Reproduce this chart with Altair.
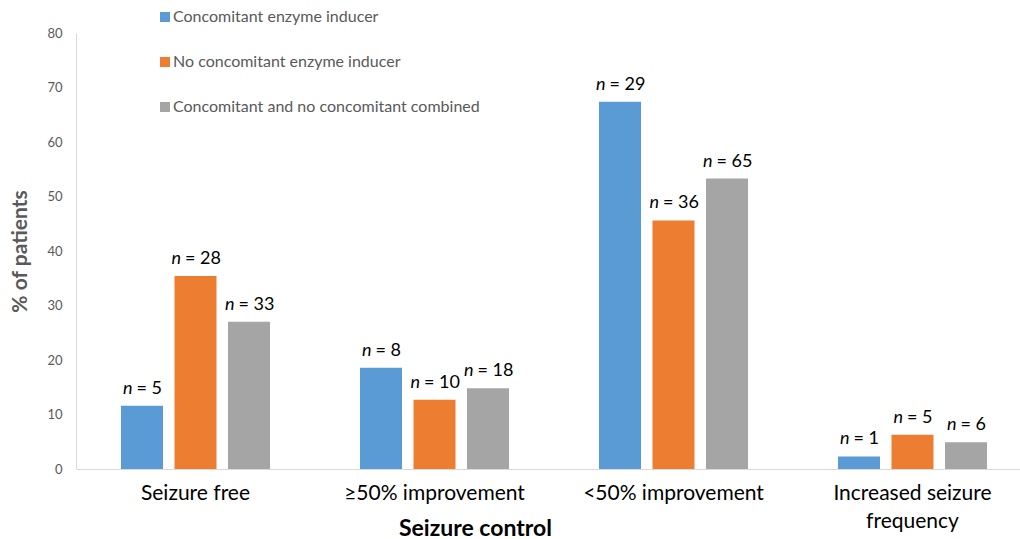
import altair as alt
import pandas as pd

categories = ["Seizure free", "≥50% improvement", "<50% improvement", "Increased seizure frequency"]
series = ["Concomitant enzyme inducer", "No concomitant enzyme inducer", "Concomitant and no concomitant combined"]
colors = ["#5B9BD5", "#ED7D31", "#A5A5A5"]

pct_inducer = [11.6, 18.6, 67.4, 2.3]
pct_no_inducer = [35.4, 12.7, 45.6, 6.3]
pct_combined = [27.0, 14.8, 53.3, 4.9]

n_inducer = [5, 8, 29, 1]
n_no_inducer = [28, 10, 36, 5]
n_combined = [33, 18, 65, 6]

y_ticks = [0, 10, 20, 30, 40, 50, 60, 70, 80]

rows = []
for s, pcts, ns in zip(series, [pct_inducer, pct_no_inducer, pct_combined],
                       [n_inducer, n_no_inducer, n_combined]):
    for c, p, n in zip(categories, pcts, ns):
        rows.append({"category": c, "series": s, "pct": p, "n": n, "rest": f"= {n}"})
df = pd.DataFrame(rows)

FONT = "Lato"
GRAY = "#595959"

x_enc = alt.X("category:N", sort=categories,
              scale=alt.Scale(paddingInner=0, paddingOuter=0, range=[0, 956]),
              axis=alt.Axis(title="Seizure control", labelAngle=0, ticks=False,
                            domainColor="#d9d9d9", labelFontSize=21, labelColor="#000000",
                            labelFont=FONT, labelPadding=13, labelLineHeight=28, labelLimit=0,
                            labelExpr="datum.label == 'Increased seizure frequency' ? ['Increased seizure', 'frequency'] : datum.label",
                            titleFont=FONT, titleFontSize=23, titleFontWeight="bold",
                            titleColor="#000000", titleBaseline="middle", titleY=59,
                            titleX=399, titleAlign="center", titleAnchor="start"))
xoff = alt.XOffset("series:N", sort=series,
                   scale=alt.Scale(paddingInner=0.215, paddingOuter=0.841))
y_enc = alt.Y("pct:Q", scale=alt.Scale(domain=[0, 80], nice=False),
              axis=alt.Axis(title="% of patients", values=y_ticks, grid=False, ticks=False,
                            domainColor="#d9d9d9", labelFontSize=13, labelColor=GRAY,
                            labelFont=FONT, labelPadding=14,
                            titleFont=FONT, titleFontSize=21, titleFontWeight="bold",
                            titleColor=GRAY, titlePadding=16))

base = alt.Chart(df)

bars = base.mark_bar().encode(
    x=x_enc, xOffset=xoff, y=y_enc,
    color=alt.Color("series:N", sort=series,
                    scale=alt.Scale(domain=series, range=colors),
                    legend=alt.Legend(title=None, orient="none", legendX=81, legendY=-24,
                                      direction="vertical", symbolType="square",
                                      symbolSize=100, symbolStrokeWidth=0,
                                      labelFontSize=16, labelColor=GRAY, labelFont=FONT,
                                      labelLimit=0, rowPadding=29, labelOffset=0)),
)

def label_layers(filt, dx_n, dx_rest):
    b = base.transform_filter(filt)
    n_txt = b.mark_text(align="left", baseline="alphabetic", dx=dx_n, dy=-12,
                        font=FONT, fontSize=18, fontStyle="italic", color="#000000").encode(
        x=alt.X("category:N", sort=categories), xOffset=alt.XOffset("series:N", sort=series),
        y="pct:Q", text=alt.value("n"))
    rest_txt = b.mark_text(align="left", baseline="alphabetic", dx=dx_rest, dy=-12,
                           font=FONT, fontSize=18, color="#000000").encode(
        x=alt.X("category:N", sort=categories), xOffset=alt.XOffset("series:N", sort=series),
        y="pct:Q", text="rest:N")
    return [n_txt, rest_txt]

layers = [bars] + label_layers("datum.n < 10", -19, -5.5) + label_layers("datum.n >= 10", -24, -10.5)

chart = alt.layer(*layers).properties(
    width=944, height=436,
    autosize=alt.AutoSizeParams(type="none"),
    padding={"left": 76, "top": 33, "right": 0, "bottom": 70},
).configure_view(stroke=None)

chart.save("out.html", embed_options={"renderer": "svg", "actions": False})
